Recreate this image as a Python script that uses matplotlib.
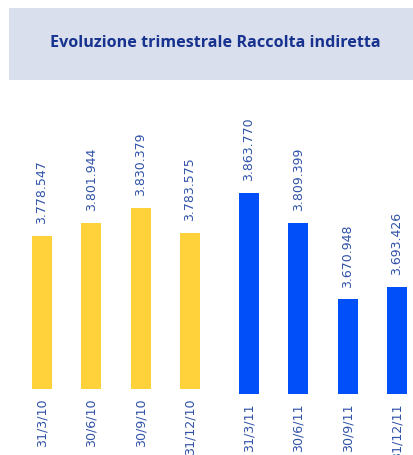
import matplotlib
matplotlib.use("Agg")
import matplotlib.pyplot as plt
from matplotlib.patches import Rectangle

# Data (values in thousands of euro, Italian number format)
labels_2010 = ['31/3/10', '30/6/10', '30/9/10', '31/12/10']
values_2010 = [3778547, 3801944, 3830379, 3783575]
labels_2011 = ['31/3/11', '30/6/11', '30/9/11', '31/12/11']
values_2011 = [3863770, 3809399, 3670948, 3693426]

title = 'Evoluzione trimestrale Raccolta indiretta'
yellow = '#ffd13b'
blue = '#004ff8'
text_blue = '#2f52a8'
navy = '#17328f'

W, H = 413, 455
fig = plt.figure(figsize=(W / 100, H / 100), dpi=100)

def fmt(v):
    return f"{v:,}".replace(',', '.')

# Title box
fig.patches.append(Rectangle((9 / W, 1 - 80 / H), 1 - 9 / W, 72 / H,
                             transform=fig.transFigure, facecolor='#d9dfec',
                             edgecolor='none'))
fig.text(215 / W, 1 - 43 / H, title, ha='center', va='center',
         fontsize=11.6, fontweight='bold', color=navy, family='Open Sans')

ymin, ymax = 3.5e6, 4.03e6

def panel(left_px, right_px, top_px, bottom_px, labels, values, color):
    ax = fig.add_axes([left_px / W, 1 - bottom_px / H,
                       (right_px - left_px) / W, (bottom_px - top_px) / H])
    x = range(len(values))
    bars = ax.bar(x, values, width=0.41, color=color)
    ax.set_xlim(-0.5, len(values) - 0.5)
    ax.set_ylim(ymin, ymax)
    for b, v in zip(bars, values):
        ax.annotate(fmt(v), (b.get_x() + b.get_width() / 2, v),
                    xytext=(0, 8.5), textcoords='offset points',
                    rotation=90, ha='center', va='bottom',
                    fontsize=9, color=text_blue)
    ax.set_xticks(list(x))
    ax.set_xticklabels(labels, rotation=90, fontsize=9.1, color=text_blue)
    ax.tick_params(axis='x', length=0, pad=7.5)
    ax.set_yticks([])
    for s in ax.spines.values():
        s.set_visible(False)
    ax.patch.set_alpha(0)
    return ax

panel(17.3, 214.7, 98.4, 388.5, labels_2010, values_2010, yellow)
panel(224.3, 421.7, 101.6, 393.5, labels_2011, values_2011, blue)

fig.savefig('out.png', dpi=100)
